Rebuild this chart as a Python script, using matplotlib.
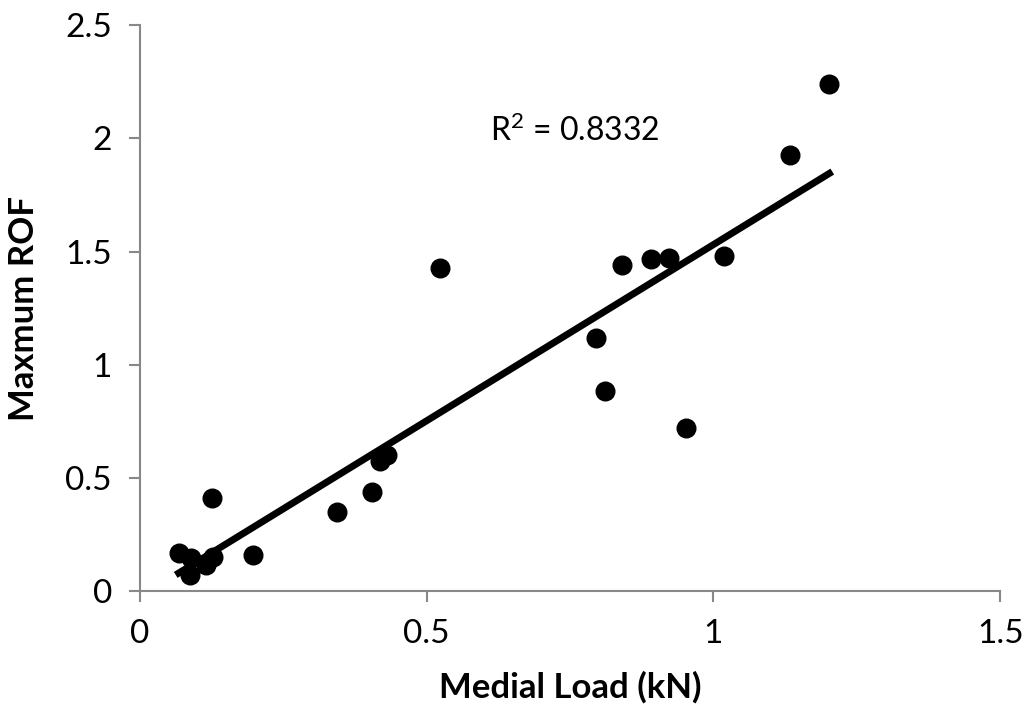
import numpy as np
import matplotlib.pyplot as plt

# Medial load (kN) vs maximum ROF
medial_load = [1.202, 1.134, 1.019, 0.923, 0.891, 0.841, 0.523, 0.795, 0.811,
               0.952, 0.431, 0.419, 0.405, 0.344, 0.197, 0.126, 0.068, 0.088,
               0.116, 0.128, 0.090]
max_rof = [2.239, 1.926, 1.480, 1.471, 1.466, 1.440, 1.427, 1.117, 0.883,
           0.720, 0.601, 0.574, 0.437, 0.349, 0.159, 0.411, 0.168, 0.071,
           0.115, 0.152, 0.146]
r2_label = "R$^2$ = 0.8332"

plt.rcParams["font.family"] = ["Lato", "DejaVu Sans"]
plt.rcParams["mathtext.default"] = "regular"

fig = plt.figure(figsize=(10.27, 7.19), dpi=100)
ax = fig.add_axes([0.136, 0.178, 0.838, 0.787])

ax.scatter(medial_load, max_rof, s=180, color="black", zorder=3)

# linear trendline
slope, intercept = np.polyfit(medial_load, max_rof, 1)
xs = np.array([min(medial_load), max(medial_load)])
ax.plot(xs, slope * xs + intercept, color="black", linewidth=5, zorder=2)

ax.text(0.61, 1.99, r2_label, fontsize=23)

ax.set_xlim(0, 1.5)
ax.set_ylim(0, 2.5)
ax.set_xticks([0, 0.5, 1, 1.5])
ax.set_xticklabels(["0", "0.5", "1", "1.5"])
ax.set_yticks([0, 0.5, 1, 1.5, 2, 2.5])
ax.set_yticklabels(["0", "0.5", "1", "1.5", "2", "2.5"])

for side in ["top", "right"]:
    ax.spines[side].set_visible(False)
for side in ["left", "bottom"]:
    ax.spines[side].set_color("#888888")
    ax.spines[side].set_linewidth(1.5)
ax.tick_params(colors="#888888", labelcolor="black", labelsize=24,
               length=8, width=1.5, pad=12)

ax.set_xlabel("Medial Load (kN)", fontsize=25, fontweight="bold", labelpad=16)
ax.set_ylabel("Maxmum ROF", fontsize=25, fontweight="bold", labelpad=18)

plt.savefig("out.png", dpi=100)
